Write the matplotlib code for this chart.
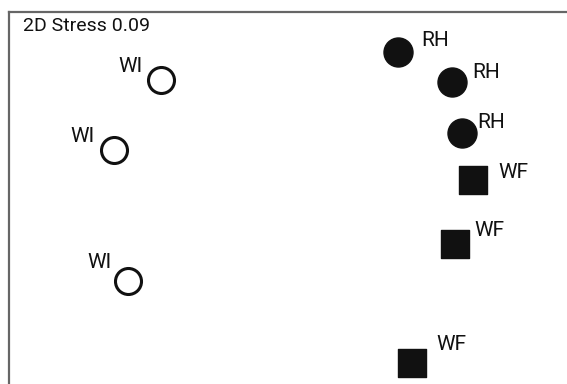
import matplotlib
matplotlib.use("Agg")
import matplotlib.pyplot as plt

# NMDS ordination scores (arbitrary units)
rh_x = [389, 443, 453]
rh_y = [332, 302, 251]
wf_x = [464, 446, 403]
wf_y = [204, 140, 21]
wi_x = [152, 105, 119]
wi_y = [304, 234, 103]
stress = 0.09

# label offsets in pixels (dx, dy)
rh_off = [(23, 11), (20, 10), (15, 11)]
wf_off = [(25, 7), (19, 13), (24, 18)]
wi_off = [(-18, 13), (-19, 13), (-16, 18)]

plt.rcParams['font.family'] = ['Roboto', 'DejaVu Sans']
fig = plt.figure(figsize=(5.67, 3.84), dpi=100)
ax = fig.add_axes([9 / 567, 0, 558 / 567, 372 / 384])
ax.set_xlim(0, 558)
ax.set_ylim(0, 372)

px = 0.72  # points per pixel
ax.scatter(rh_x, rh_y, s=(29 * px) ** 2, marker='o', color='#111111', zorder=3)
ax.scatter(wf_x, wf_y, s=(28 * px) ** 2, marker='s', color='#111111', zorder=3)
ax.scatter(wi_x, wi_y, s=(26 * px) ** 2, marker='o', facecolor='white',
           edgecolor='#111111', linewidth=2.2, zorder=3)

def label(xs, ys, offs, text, ha):
    for x, y, (dx, dy) in zip(xs, ys, offs):
        ax.annotate(text, (x, y), xytext=(dx * px, dy * px), textcoords='offset points',
                    ha=ha, va='center', fontsize=15, color='#111111')

label(rh_x, rh_y, rh_off, 'RH', 'left')
label(wf_x, wf_y, wf_off, 'WF', 'left')
label(wi_x, wi_y, wi_off, 'WI', 'right')

ax.text(14 / 558, 1 - 14 / 372, f'2D Stress {stress}', transform=ax.transAxes,
        ha='left', va='center', fontsize=14, color='#111111')

for side in ['right', 'bottom']:
    ax.spines[side].set_visible(False)
for side in ['left', 'top']:
    ax.spines[side].set_color('#666666')
    ax.spines[side].set_linewidth(1.6)
ax.set_xticks([])
ax.set_yticks([])

fig.savefig('out.png', dpi=100)
